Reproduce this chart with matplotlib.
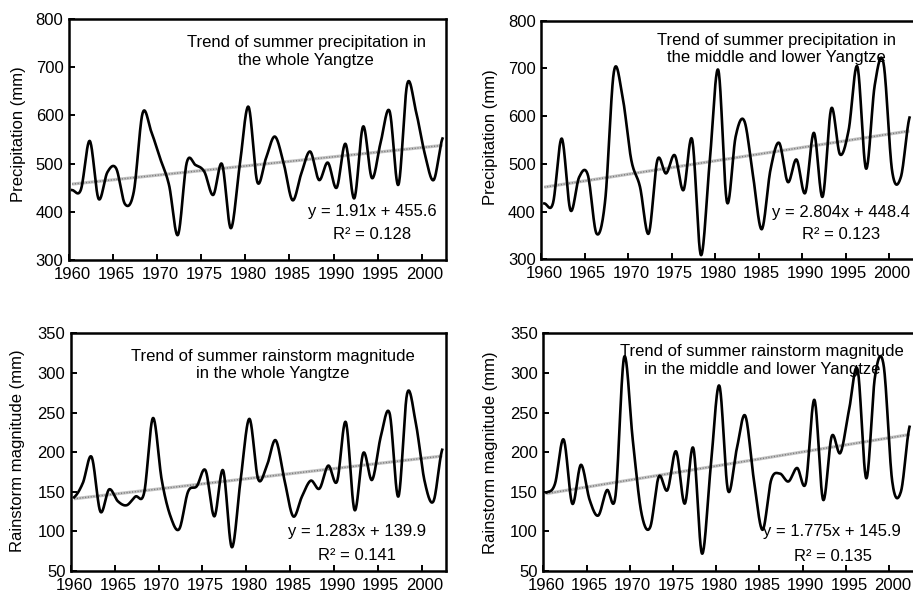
import numpy as np
import matplotlib
matplotlib.use("Agg")
import matplotlib.pyplot as plt
from matplotlib.transforms import ScaledTranslation

plt.rcParams['font.family'] = ['Liberation Sans', 'DejaVu Sans']

# ---------------- data ----------------
years = np.arange(1960, 2003)

precip_whole = [445, 446, 547, 427, 482, 490, 416, 442, 605, 565,
                510, 455, 352, 502, 497, 483, 435, 499, 366, 495,
                618, 462, 512, 556, 500, 424, 480, 525, 466, 502,
                450, 541, 428, 577, 470, 545, 609, 456, 665, 608,
                520, 466, 552]

precip_midlow = [417, 418, 553, 403, 472, 477, 354, 424, 693, 640,
                 508, 452, 354, 508, 480, 518, 445, 551, 309, 500,
                 697, 420, 557, 590, 475, 363, 487, 544, 462, 509,
                 439, 565, 431, 616, 520, 571, 704, 490, 665, 712,
                 485, 472, 597]

storm_whole = [143, 161, 194, 125, 153, 138, 133, 144, 149, 243,
               165, 119, 103, 150, 157, 177, 119, 177, 80, 165,
               242, 166, 183, 215, 165, 119, 144, 164, 154, 183,
               163, 238, 127, 199, 165, 220, 249, 144, 274, 236,
               163, 138, 203]

storm_midlow = [149, 160, 216, 135, 184, 140, 120, 152, 145, 320,
                215, 123, 105, 169, 152, 201, 135, 205, 72, 180,
                284, 152, 203, 246, 165, 102, 165, 173, 163, 180,
                161, 266, 140, 220, 199, 253, 304, 167, 295, 310,
                163, 150, 232]

trend_slopes = [1.91, 2.804, 1.283, 1.775]
trend_intercepts = [455.6, 448.4, 139.9, 145.9]
r2_values = [0.128, 0.123, 0.141, 0.135]

titles = ["Trend of summer precipitation in\nthe whole Yangtze",
          "Trend of summer precipitation in\nthe middle and lower Yangtze",
          "Trend of summer rainstorm magnitude\nin the whole Yangtze",
          "Trend of summer rainstorm magnitude\nin the middle and lower Yangtze"]
ylabels = ["Precipitation (mm)", "Precipitation (mm)",
           "Rainstorm magnitude (mm)", "Rainstorm magnitude (mm)"]
series = [precip_whole, precip_midlow, storm_whole, storm_midlow]
ylims = [(300, 800), (300, 800), (50, 350), (50, 350)]
ysteps = [100, 100, 50, 50]
xticks = list(range(1960, 2001, 5))

# ---------------- layout (pixels) ----------------
W, H = 913, 594
x_shift = 0.35
axes_px = [(69, 19, 446, 260), (541.3, 20.7, 913, 259.3),
           (71, 333.3, 445.7, 571), (543.3, 333.3, 913, 571)]
title_px = [(306, 51.5), (776.5, 49), (273, 365), (762, 360.5)]
eq_px = [(372, 211.7), (841, 212.7), (356.7, 531.7), (832, 531.7)]
r2_px = [(372, 235), (841.3, 235), (356.7, 555), (832.8, 556.7)]
ylab_px = [(18, 134), (490, 136.7), (18, 450.8), (490, 453)]
FS = 12


def catmull(x, y, n=24):
    x = np.asarray(x, float)
    y = np.asarray(y, float)
    xs, ys = [], []
    N = len(y)
    for i in range(N - 1):
        p0 = y[i - 1] if i > 0 else y[i]
        p3 = y[i + 2] if i + 2 < N else y[i + 1]
        m1 = (y[i + 1] - p0) / 2.0
        m2 = (p3 - y[i]) / 2.0
        t = np.linspace(0, 1, n, endpoint=False)
        h00 = 2 * t**3 - 3 * t**2 + 1
        h10 = t**3 - 2 * t**2 + t
        h01 = -2 * t**3 + 3 * t**2
        h11 = t**3 - t**2
        ys.append(h00 * y[i] + h10 * m1 + h01 * y[i + 1] + h11 * m2)
        xs.append(x[i] + t * (x[i + 1] - x[i]))
    xs.append([x[-1]])
    ys.append([y[-1]])
    return np.concatenate(xs), np.concatenate(ys)


fig = plt.figure(figsize=(W / 100, H / 100), dpi=100)

for k in range(4):
    l, t, r, b = axes_px[k]
    ax = fig.add_axes([l / W, 1 - b / H, (r - l) / W, (b - t) / H])
    xpos = years + x_shift
    sx, sy = catmull(xpos, series[k])
    idx = np.arange(1, len(years) + 1)
    trend = trend_slopes[k] * idx + trend_intercepts[k]
    ax.plot(xpos, trend, color='#c4c4c4', lw=2.3, solid_capstyle='butt', zorder=2)
    ax.plot(xpos, trend, color='#7a7a7a', lw=1.0, dashes=(0.8, 1.2), zorder=2.5)
    ax.plot(sx, sy, color='black', lw=1.9, zorder=3, solid_joinstyle='round')

    ax.set_xlim(1960, 2002.75)
    ax.set_ylim(*ylims[k])
    ax.set_xticks(xticks)
    ax.set_yticks(np.arange(ylims[k][0], ylims[k][1] + 1, ysteps[k]))
    ax.tick_params(direction='in', length=4, width=1.4, labelsize=FS, pad=4,
                   top=False, right=False)
    ax.tick_params(axis='x', pad=5)
    off = ScaledTranslation(3 / 100, 0, fig.dpi_scale_trans)
    for lab in ax.get_xticklabels():
        lab.set_transform(lab.get_transform() + off)
    for s in ax.spines.values():
        s.set_linewidth(1.8)
    if k in (1, 3):
        ax.spines['right'].set_visible(False)

    fig.text(title_px[k][0] / W, 1 - title_px[k][1] / H, titles[k],
             ha='center', va='center', fontsize=FS, linespacing=1.2)
    fig.text(eq_px[k][0] / W, 1 - eq_px[k][1] / H,
             "y = {:g}x + {:g}".format(trend_slopes[k], trend_intercepts[k]),
             ha='center', va='center', fontsize=FS)
    fig.text(r2_px[k][0] / W, 1 - r2_px[k][1] / H,
             "R\u00b2 = {:.3f}".format(r2_values[k]),
             ha='center', va='center', fontsize=FS)
    fig.text(ylab_px[k][0] / W, 1 - ylab_px[k][1] / H, ylabels[k],
             ha='center', va='center', rotation=90, fontsize=FS)

fig.savefig("out.png", dpi=100)
